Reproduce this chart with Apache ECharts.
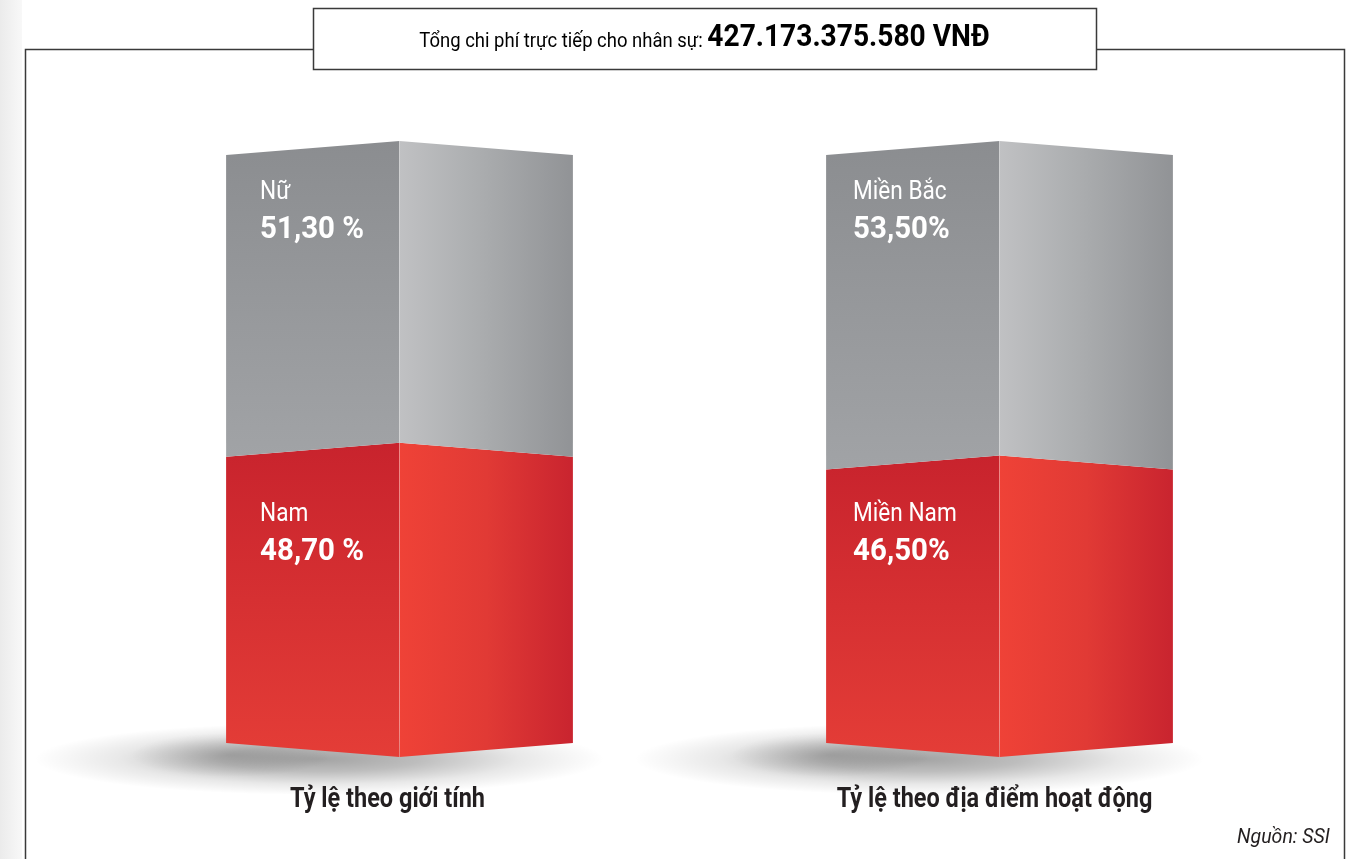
<!DOCTYPE html>
<html>
<head>
<meta charset="utf-8">
<script src="https://cdn.jsdelivr.net/npm/echarts@6/dist/echarts.min.js"></script>
<style>
  html, body { margin: 0; padding: 0; background: #fff; }
  #chart { width: 1364px; height: 859px; }
</style>
</head>
<body>
<div id="chart"></div>
<script>
// Cơ cấu chi phí nhân sự
const categories = ['Tỷ lệ theo giới tính', 'Tỷ lệ theo địa điểm hoạt động'];
const lowerNames = ['Nam', 'Miền Nam'];
const lowerValues = [48.7, 46.5];
const upperNames = ['Nữ', 'Miền Bắc'];
const upperValues = [51.3, 53.5];
const percentSuffix = [' %', '%'];
const totalLabel = 'Tổng chi phí trực tiếp cho nhân sự: ';
const totalValue = '427.173.375.580 VNĐ';
const sourceText = 'Nguồn: SSI';

const FONT = "Roboto, 'Noto Sans', sans-serif";
const labelInset = [34, 27];     // text indent inside each box front face
const captionShift = [-12, -5];  // caption offset from box centre

function fmt(v, i) {
  return v.toFixed(2).replace('.', ',') + percentSuffix[i];
}

// stacked segments: [category, low, high, layer]
const segments = [];
categories.forEach((c, i) => {
  segments.push([i, 0, lowerValues[i], 0]);
  segments.push([i, lowerValues[i], lowerValues[i] + upperValues[i], 1]);
});

const palette = {
  0: {
    front: ['#c8232d', '#e43d37'],
    side: ['#ef4237', '#e13a35', '#c9242f']
  },
  1: {
    front: ['#8b8d90', '#a1a3a6'],
    side: ['#c0c1c3', '#a9abad', '#919396']
  }
};

function renderBox(params, api) {
  const cat = api.value(0), low = api.value(1), high = api.value(2), layer = api.value(3);
  const catIdx = segments[params.dataIndex][0];
  const xc = api.coord([cat, 0])[0];
  const hw = api.size([1, 0])[0] * 0.289;
  const skew = 14;
  const yLo = api.coord([cat, low])[1];
  const yHi = api.coord([cat, high])[1];
  const cLo = low === 0 ? yLo + skew : yLo - skew;
  const cHi = yHi - skew;
  const pal = palette[layer];
  const children = [];

  if (low === 0) {
    // soft floor shadow
    children.push({
      type: 'circle', shape: { cx: 0, cy: 0, r: 100 },
      x: xc - 80, y: yLo + 16, scaleX: 2.85, scaleY: 0.36,
      style: { fill: { type: 'radial', x: 0.5, y: 0.5, r: 0.5, colorStops: [
        { offset: 0, color: 'rgba(0,0,0,0.36)' },
        { offset: 0.35, color: 'rgba(0,0,0,0.26)' },
        { offset: 0.7, color: 'rgba(0,0,0,0.09)' },
        { offset: 1, color: 'rgba(0,0,0,0)' }] } },
      silent: true
    });
    children.push({
      type: 'circle', shape: { cx: 0, cy: 0, r: 100 },
      x: xc - hw + 5, y: yLo + 12, scaleX: 1.0, scaleY: 0.22,
      style: { fill: { type: 'radial', x: 0.5, y: 0.5, r: 0.5, colorStops: [
        { offset: 0, color: 'rgba(0,0,0,0.16)' },
        { offset: 1, color: 'rgba(0,0,0,0)' }] } },
      silent: true
    });
    // category caption under the box
    children.push({
      type: 'text', x: xc + captionShift[catIdx], y: yLo + 57, scaleX: 0.87,
      style: { text: categories[catIdx], fill: '#231f20', font: 'bold 27px ' + FONT,
        align: 'center', verticalAlign: 'middle' }
    });
  }

  children.push({
    type: 'polygon',
    shape: { points: [[xc - hw, yHi], [xc, cHi], [xc, cLo], [xc - hw, yLo]] },
    style: { fill: { type: 'linear', x: 0, y: 0, x2: 0, y2: 1, colorStops: [
      { offset: 0, color: pal.front[0] }, { offset: 1, color: pal.front[1] }] } }
  });
  children.push({
    type: 'polygon',
    shape: { points: [[xc, cHi], [xc + hw, yHi], [xc + hw, yLo], [xc, cLo]] },
    style: { fill: { type: 'linear', x: 0, y: 0, x2: 1, y2: 0, colorStops: [
      { offset: 0, color: pal.side[0] }, { offset: 0.5, color: pal.side[1] }, { offset: 1, color: pal.side[2] }] } }
  });
  children.push({
    type: 'line', shape: { x1: xc, y1: cHi, x2: xc, y2: cLo },
    style: { stroke: 'rgba(255,255,255,0.22)', lineWidth: 1 }, silent: true
  });

  const name = layer === 0 ? lowerNames[catIdx] : upperNames[catIdx];
  const val = high - low;
  const tx = xc - hw + labelInset[catIdx];
  const ty = layer === 0 ? yLo - 229 : yHi + 37;
  children.push({
    type: 'text', x: tx, y: ty, scaleX: 0.87,
    style: { text: name, fill: '#fff', font: '26px ' + FONT, verticalAlign: 'middle', align: 'left' }
  });
  children.push({
    type: 'text', x: tx, y: ty + 38, scaleX: 0.92,
    style: { text: fmt(val, catIdx), fill: '#fff', font: 'bold 32px ' + FONT, verticalAlign: 'middle', align: 'left' }
  });
  return { type: 'group', children };
}

const chart = echarts.init(document.getElementById('chart'), null, { renderer: 'canvas' });
chart.setOption({
  backgroundColor: '#fff',
  animation: false,
  grid: { left: 99.5, right: 64.5, top: 155, bottom: 116 },
  xAxis: {
    type: 'category', data: categories, show: false
  },
  yAxis: { type: 'value', min: 0, max: 100, show: false },
  series: [{
    type: 'custom',
    renderItem: renderBox,
    encode: { x: 0, y: [1, 2] },
    data: segments,
    z: 2
  }],
  graphic: [
    {
      type: 'rect', left: 0, top: 0, shape: { width: 22, height: 859 }, silent: true,
      style: { fill: { type: 'linear', x: 0, y: 0, x2: 1, y2: 0, colorStops: [
        { offset: 0, color: '#ebebeb' }, { offset: 1, color: '#f8f8f8' }] } }
    },
    {
      type: 'polyline', silent: true,
      shape: { points: [[313, 49.5], [25.5, 49.5], [25.5, 870]] },
      style: { stroke: '#3a3a3a', lineWidth: 1.5, fill: null }
    },
    {
      type: 'polyline', silent: true,
      shape: { points: [[1096, 49.5], [1344.5, 49.5], [1344.5, 870]] },
      style: { stroke: '#3a3a3a', lineWidth: 1.5, fill: null }
    },
    {
      type: 'rect', silent: true,
      shape: { x: 313.5, y: 8.5, width: 783, height: 61 },
      style: { fill: '#fff', stroke: '#3a3a3a', lineWidth: 1.5 }
    },
    {
      type: 'text', x: 704.5, y: 38, scaleX: 0.88, silent: true,
      style: {
        text: '{a|' + totalLabel + '}{b|' + totalValue + '}',
        align: 'center', verticalAlign: 'middle',
        rich: {
          a: { fontFamily: FONT, fontSize: 21, color: '#231f20', verticalAlign: 'bottom', padding: [0, 0, 2, 0] },
          b: { fontFamily: FONT, fontSize: 32, fontWeight: 'bold', color: '#231f20', verticalAlign: 'bottom' }
        }
      }
    },
    {
      type: 'text', x: 1330, y: 838, scaleX: 0.93, silent: true,
      style: { text: sourceText, font: 'italic 21px ' + FONT, fill: '#231f20', align: 'right', verticalAlign: 'middle' }
    }
  ]
});
</script>
</body>
</html>
